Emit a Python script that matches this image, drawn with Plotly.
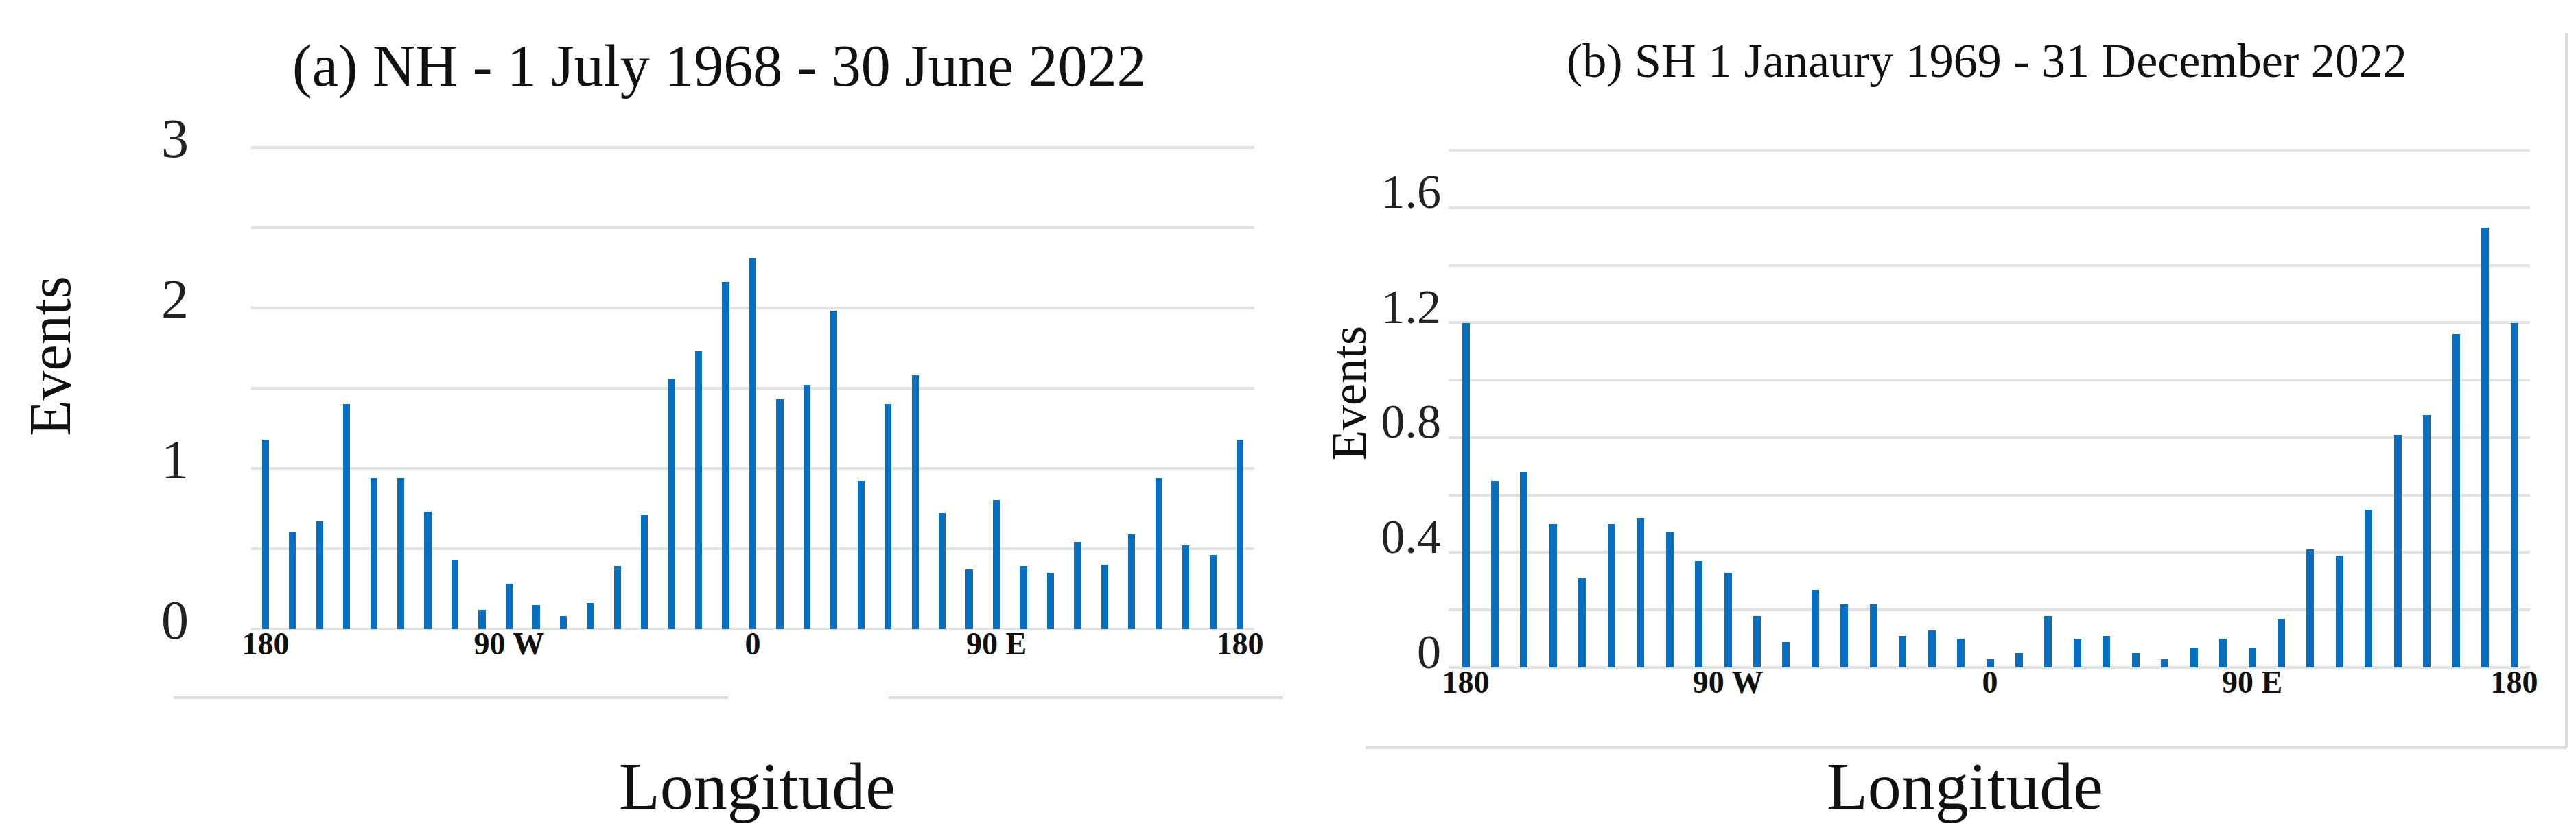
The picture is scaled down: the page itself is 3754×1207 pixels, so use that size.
import plotly.graph_objects as go

W, H = 3754, 1207

# ---- data ----
longitudes = list(range(-180, 181, 10))
nh_events = [1.18, 0.60, 0.67, 1.40, 0.94, 0.94, 0.73, 0.43, 0.12, 0.28, 0.15, 0.08, 0.16, 0.39, 0.71, 1.56, 1.73, 2.16, 2.31,
             1.43, 1.52, 1.98, 0.92, 1.40, 1.58, 0.72, 0.37, 0.80, 0.39, 0.35, 0.54, 0.40, 0.59, 0.94, 0.52, 0.46, 1.18]
sh_events = [1.20, 0.65, 0.68, 0.50, 0.31, 0.50, 0.52, 0.47, 0.37, 0.33, 0.18, 0.09, 0.27, 0.22, 0.22, 0.11, 0.13, 0.10, 0.03,
             0.05, 0.18, 0.10, 0.11, 0.05, 0.03, 0.07, 0.10, 0.07, 0.17, 0.41, 0.39, 0.55, 0.81, 0.88, 1.16, 1.53, 1.20]
x_tickvals = [-180, -90, 0, 90, 180]
x_ticktext = ["180", "90 W", "0", "90 E", "180"]
nh_yticks = [0, 0.5, 1, 1.5, 2, 2.5, 3]
nh_yticktext = ["0", "", "1", "", "2", "", "3"]
sh_yticks = [0, 0.2, 0.4, 0.6, 0.8, 1.0, 1.2, 1.4, 1.6, 1.8]
sh_yticktext = ["0", "", "0.4", "", "0.8", "", "1.2", "", "1.6", ""]

title_a = "(a) NH - 1 July 1968 - 30 June 2022"
title_b = "(b) SH 1 Janaury 1969 - 31 December 2022"

def px(x):
    return x / W

def py(y):
    return 1 - y / H

BLUE = "#0A6EBD"
GRID = "#e2e2e2"
SERIF = "Liberation Serif, Times New Roman, serif"

fig = go.Figure()
fig.add_trace(go.Bar(x=longitudes, y=nh_events, width=2.6, marker=dict(color=BLUE, line=dict(width=0)),
                     xaxis="x", yaxis="y", showlegend=False))
fig.add_trace(go.Bar(x=longitudes, y=sh_events, width=2.6, marker=dict(color=BLUE, line=dict(width=0)),
                     xaxis="x2", yaxis="y2", showlegend=False))

xcommon = dict(showgrid=False, zeroline=False, showline=False, ticks="", automargin=False,
               tickvals=x_tickvals, ticktext=x_ticktext, ticklabelstandoff=-10,
               tickfont=dict(family=SERIF, size=46, color="#111111", weight="bold"))

# left: 0 at y=909px, 3 at y=207px -> 234 px/unit ; right: 0 at 965px, 1.8 at 211px
nh_top = 3.02
sh_top = 1.81
fig.update_layout(
    width=W, height=H,
    margin=dict(l=0, r=0, t=0, b=0, autoexpand=False),
    paper_bgcolor="white", plot_bgcolor="white",
    bargap=0,
    xaxis=dict(domain=[px(358), px(1820)], range=[-185.3, 185.3], anchor="y", **xcommon),
    yaxis=dict(domain=[py(909), py(909 - 234 * nh_top)], range=[0, nh_top], anchor="x", automargin=False,
               tickvals=nh_yticks, ticktext=nh_yticktext,
               showgrid=True, gridcolor=GRID, gridwidth=4,
               zeroline=True, zerolinecolor=GRID, zerolinewidth=4, showline=False, ticks="",
               ticklabelstandoff=90, ticklabelshift=-14,
               tickfont=dict(family=SERIF, size=80, color="#222222")),
    xaxis2=dict(domain=[px(2103), px(3679)], range=[-185.9, 185.4], anchor="y2", **xcommon),
    yaxis2=dict(domain=[py(965), py(965 - 418.9 * sh_top)], range=[0, sh_top], anchor="x2", automargin=False,
                tickvals=sh_yticks, ticktext=sh_yticktext,
                showgrid=True, gridcolor=GRID, gridwidth=4,
                zeroline=True, zerolinecolor=GRID, zerolinewidth=4, showline=False, ticks="",
                ticklabelstandoff=10, ticklabelshift=-24,
                tickfont=dict(family=SERIF, size=70, color="#222222")),
)

annotations = [
    dict(text=title_a, x=px(1040), y=py(88), font=dict(family=SERIF, size=86, color="#111111")),
    dict(text=title_b, x=px(2887), y=py(80), font=dict(family=SERIF, size=70, color="#111111")),
    dict(text="Events", x=px(65), y=py(511), textangle=-90, font=dict(family=SERIF, size=86, color="#111111")),
    dict(text="Events", x=px(1958), y=py(565), textangle=-90, font=dict(family=SERIF, size=72, color="#111111")),
    dict(text="Longitude", x=px(1095), y=py(1138), font=dict(family=SERIF, size=98, color="#111111")),
    dict(text="Longitude", x=px(2855), y=py(1138), font=dict(family=SERIF, size=98, color="#111111")),
]
for a in annotations:
    a.update(xref="paper", yref="paper", showarrow=False, xanchor="center", yanchor="middle")
fig.update_layout(annotations=annotations)

LINE = dict(color="#dcdcdc", width=4)
shapes = [
    dict(type="line", xref="paper", yref="paper", x0=px(245), x1=px(1053), y0=py(1009), y1=py(1009), line=LINE),
    dict(type="line", xref="paper", yref="paper", x0=px(1287), x1=px(1861), y0=py(1009), y1=py(1009), line=LINE),
    dict(type="line", xref="paper", yref="paper", x0=px(1982), x1=px(3732), y0=py(1082), y1=py(1082), line=LINE),
    dict(type="line", xref="paper", yref="paper", x0=px(3732), x1=px(3732), y0=py(40), y1=py(1082), line=LINE),
]
fig.update_layout(shapes=shapes)

fig.write_html("out.html")
